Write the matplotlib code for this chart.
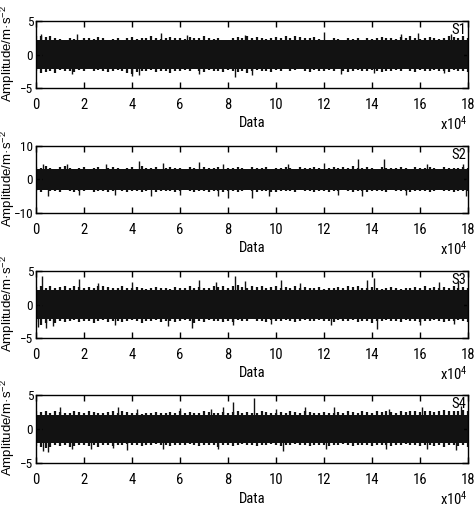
import numpy as np
import matplotlib
matplotlib.use("Agg")
import matplotlib.pyplot as plt

# x positions of the envelope readings, in units of 10^4 samples
x_env = np.arange(0, 18.01, 0.2)

# upper / lower edges of the signal at each reading
s1_up = [2.7, 2.8, 2.6, 2.7, 2.5, 2.3, 2.2, 2.4, 2.3, 2.1, 2.4, 2.5, 2.3, 2.6, 2.4, 2.2, 2.3, 2.5, 2.2, 2.4,
         2.6, 2.3, 2.5, 2.4, 2.7, 2.5, 2.3, 2.4, 2.6, 2.4, 2.5, 2.3, 2.6, 2.5, 2.4, 2.7, 2.4, 2.3, 2.5, 2.2,
         2.2, 2.4, 2.6, 2.5, 2.7, 2.4, 2.6, 2.5, 2.3, 2.4, 2.6, 2.5, 2.7, 2.4, 2.8, 2.6, 2.5, 2.4, 2.6, 2.3,
         2.1, 2.2, 2.4, 2.3, 2.2, 2.4, 2.3, 2.5, 2.2, 2.4, 2.3, 2.4, 2.6, 2.5, 2.4, 2.3, 2.6, 2.5, 2.8, 2.4,
         2.3, 2.4, 2.6, 2.5, 2.3, 2.5, 2.7, 2.6, 2.4, 2.8, 2.5]
s1_lo = [-2.4, -2.8, -2.6, -2.5, -2.7, -2.3, -2.5, -2.4, -2.6, -2.3, -2.4, -2.2, -2.5, -2.3, -2.4, -2.6, -2.5, -2.3, -2.4, -2.7,
         -2.9, -2.6, -2.4, -2.5, -2.3, -2.6, -2.4, -2.5, -2.7, -2.5, -2.4, -2.3, -2.5, -2.2, -2.4, -2.6, -2.3, -2.5, -2.4, -2.6,
         -2.3, -2.4, -2.6, -2.5, -2.8, -2.4, -2.3, -2.5, -2.4, -2.6, -2.3, -2.4, -2.2, -2.5, -2.3, -2.2, -2.4, -2.6, -2.3, -2.5,
         -2.4, -2.3, -2.5, -2.2, -2.4, -2.6, -2.5, -2.3, -2.4, -2.5, -2.3, -2.4, -2.6, -2.5, -2.4, -2.3, -2.5, -2.2, -2.4, -2.6,
         -2.3, -2.5, -2.4, -2.3, -2.5, -2.4, -2.6, -2.3, -2.5, -2.4, -2.6]

s2_up = [3.8, 3.5, 4.0, 3.4, 3.2, 3.6, 3.9, 3.3, 3.1, 3.5, 3.7, 3.2, 3.4, 3.6, 3.0, 3.3, 3.8, 3.5, 3.2, 3.4,
         3.6, 3.1, 3.9, 3.5, 3.3, 3.7, 3.2, 3.4, 3.6, 3.3, 3.5, 3.2, 3.8, 3.4, 3.1, 3.6, 3.3, 3.5, 3.7, 3.2,
         3.4, 3.3, 3.6, 3.5, 3.2, 3.8, 3.4, 3.3, 3.6, 3.1, 3.5, 3.3, 3.7, 3.4, 3.2, 3.6, 3.5, 3.3, 3.8, 3.4,
         3.2, 3.5, 3.7, 3.3, 3.6, 3.4, 3.9, 3.5, 3.3, 3.7, 3.4, 3.2, 3.6, 3.5, 3.3, 3.4, 3.8, 3.5, 3.2, 3.6,
         3.4, 3.3, 3.7, 3.5, 3.2, 3.6, 3.4, 3.5, 3.3, 3.7, 3.4]
s2_lo = [-3.4, -3.7, -3.2, -3.5, -3.3, -3.6, -3.1, -3.4, -3.8, -3.3, -3.5, -3.2, -3.6, -3.4, -3.3, -3.7, -3.5, -3.2, -3.4, -3.6,
         -3.3, -3.5, -3.8, -3.4, -3.2, -3.6, -3.5, -3.3, -3.4, -3.7, -3.5, -3.2, -3.4, -3.6, -3.3, -3.5, -3.8, -3.4, -3.3, -3.6,
         -3.5, -3.3, -3.6, -3.4, -3.2, -3.5, -3.7, -3.4, -3.3, -3.6, -3.8, -3.5, -3.3, -3.4, -3.6, -3.2, -3.5, -3.3, -3.7, -3.4,
         -3.3, -3.6, -3.4, -3.5, -3.2, -3.4, -3.6, -3.3, -3.5, -3.7, -3.4, -3.3, -3.5, -3.6, -3.2, -3.4, -3.5, -3.3, -3.6, -3.4,
         -3.5, -3.3, -3.6, -3.4, -3.2, -3.5, -3.4, -3.6, -3.3, -3.5, -3.4]

s3_up = [2.6, 2.8, 2.5, 2.7, 2.4, 2.6, 2.8, 2.5, 2.7, 2.6, 2.4, 2.6, 2.5, 2.7, 2.8, 2.6, 2.4, 2.5, 2.7, 2.5,
         2.4, 2.6, 2.5, 2.3, 2.5, 2.6, 2.4, 2.5, 2.3, 2.6, 2.5, 2.4, 2.7, 2.5, 2.6, 2.4, 2.5, 2.7, 2.6, 2.8,
         2.5, 2.7, 2.9, 2.6, 2.5, 2.8, 2.6, 2.7, 2.5, 2.6, 2.7, 2.5, 2.6, 2.4, 2.7, 2.5, 2.6, 2.4, 2.5, 2.6,
         2.3, 2.5, 2.4, 2.6, 2.5, 2.7, 2.6, 2.8, 2.5, 2.4, 2.6, 2.5, 2.3, 2.4, 2.6, 2.5, 2.3, 2.5, 2.4, 2.6,
         2.5, 2.7, 2.5, 2.6, 2.4, 2.6, 2.5, 2.7, 2.5, 2.6, 2.4]
s3_lo = [-2.6, -3.0, -2.8, -2.5, -2.7, -2.4, -2.6, -2.5, -2.3, -2.6, -2.4, -2.5, -2.7, -2.4, -2.3, -2.6, -2.5, -2.4, -2.6, -2.5,
         -2.3, -2.5, -2.7, -2.4, -2.5, -2.3, -2.6, -2.4, -2.5, -2.6, -2.4, -2.3, -2.5, -2.7, -2.4, -2.6, -2.3, -2.5, -2.4, -2.6,
         -2.4, -2.6, -2.3, -2.5, -2.4, -2.2, -2.5, -2.4, -2.6, -2.3, -2.4, -2.5, -2.3, -2.4, -2.6, -2.4, -2.3, -2.5, -2.4, -2.3,
         -2.5, -2.4, -2.6, -2.3, -2.5, -2.4, -2.3, -2.6, -2.5, -2.4, -2.7, -2.5, -2.4, -2.3, -2.5, -2.4, -2.6, -2.3, -2.5, -2.4,
         -2.6, -2.4, -2.5, -2.3, -2.4, -2.6, -2.4, -2.5, -2.3, -2.5, -2.6]

s4_up = [2.6, 2.5, 2.7, 2.4, 2.6, 2.5, 2.3, 2.4, 2.6, 2.5, 2.4, 2.6, 2.5, 2.3, 2.4, 2.5, 2.7, 2.4, 2.6, 2.5,
         2.3, 2.4, 2.2, 2.4, 2.3, 2.5, 2.4, 2.3, 2.5, 2.4, 2.6, 2.4, 2.5, 2.3, 2.4, 2.6, 2.5, 2.4, 2.3, 2.5,
         2.4, 2.5, 2.6, 2.4, 2.5, 2.3, 2.4, 2.6, 2.5, 2.4, 2.3, 2.5, 2.4, 2.6, 2.5, 2.4, 2.6, 2.5, 2.3, 2.4,
         2.5, 2.4, 2.3, 2.5, 2.4, 2.6, 2.5, 2.4, 2.6, 2.5, 2.4, 2.6, 2.5, 2.7, 2.5, 2.4, 2.6, 2.5, 2.7, 2.6,
         2.5, 2.6, 2.7, 2.5, 2.6, 2.8, 2.6, 2.7, 2.6, 2.8, 2.7]
s4_lo = [-2.5, -2.7, -2.8, -2.6, -2.4, -2.5, -2.3, -2.6, -2.5, -2.4, -2.3, -2.5, -2.4, -2.6, -2.3, -2.4, -2.5, -2.3, -2.4, -2.2,
         -2.4, -2.3, -2.5, -2.4, -2.3, -2.2, -2.4, -2.3, -2.5, -2.4, -2.3, -2.4, -2.2, -2.3, -2.5, -2.4, -2.3, -2.4, -2.6, -2.4,
         -2.3, -2.5, -2.4, -2.2, -2.3, -2.4, -2.5, -2.3, -2.4, -2.2, -2.3, -2.5, -2.4, -2.3, -2.2, -2.4, -2.3, -2.5, -2.4, -2.3,
         -2.4, -2.5, -2.3, -2.4, -2.2, -2.4, -2.5, -2.3, -2.4, -2.3, -2.5, -2.4, -2.3, -2.4, -2.5, -2.3, -2.4, -2.2, -2.4, -2.3,
         -2.5, -2.4, -2.3, -2.5, -2.4, -2.6, -2.4, -2.3, -2.5, -2.4, -2.7]

# level of the solid dark core of each band (+/-)
core_level = [2.1, 3.0, 2.2, 2.1]

# isolated peaks sticking out of the band: (x in 10^4, amplitude)
s1_spike_x = [0.2, 1.5, 1.7, 4.0, 4.3, 5.2, 6.3, 6.8, 8.3, 8.7, 9.0, 12.0, 12.7, 14.1, 15.2, 15.9, 17.0, 17.3]
s1_spike_y = [3.0, -2.9, 3.0, -3.2, -3.0, 3.2, 2.9, -2.9, -3.4, 2.9, -3.0, 3.3, -2.9, -2.8, 3.1, 3.2, -2.8, 3.0]

s2_spike_x = [0.3, 0.5, 1.3, 1.8, 2.9, 3.3, 4.3, 4.8, 5.3, 6.0, 6.8, 7.6, 7.8, 8.0, 9.0, 9.7,
              10.5, 12.0, 12.6, 13.4, 13.6, 14.5, 15.4, 16.3, 17.8, 17.9]
s2_spike_y = [4.5, -4.8, 4.6, -4.5, 4.5, -4.7, 5.5, -5.0, 4.8, -4.6, 5.2, -4.8, 4.6, -5.5, -5.6, -4.8,
              4.5, 5.0, -4.6, 6.0, -4.9, 6.2, -4.6, 4.7, 4.5, -5.0]

s3_spike_x = [0.1, 0.25, 0.4, 0.7, 1.8, 2.6, 3.3, 4.0, 5.5, 6.5, 6.8, 7.5, 8.2, 8.3, 8.7,
              9.8, 10.2, 11.0, 12.3, 13.8, 14.1, 14.2, 16.0, 16.8, 17.4, 17.6]
s3_spike_y = [-3.3, 4.2, -3.5, -3.2, 3.8, 3.2, -3.0, 3.3, -3.2, -3.5, 3.6, 3.4, -3.0, 4.2, 3.5,
              -2.9, 3.7, 3.2, -3.0, 3.6, 3.9, -3.6, -3.1, 3.4, -2.9, 3.3]

s4_spike_x = [0.3, 0.5, 1.0, 1.5, 2.3, 3.2, 3.4, 3.8, 4.2, 5.3, 6.0, 7.3, 7.6, 7.8, 8.2, 9.1,
              10.0, 10.3, 11.2, 12.1, 12.4, 14.6, 14.7, 16.1, 16.3, 17.5, 17.7]
s4_spike_y = [-3.2, -3.4, 3.3, -2.9, -3.0, -2.8, 3.3, -3.1, 2.9, -2.9, 3.1, 3.0, -3.0, 3.3, 3.9, 4.5,
              3.0, -3.2, 3.2, -2.9, 3.3, -2.9, 3.0, 3.2, -3.0, -3.1, 3.4]

labels = ["S1", "S2", "S3", "S4"]
ylims = [5, 10, 5, 5]
uppers = [s1_up, s2_up, s3_up, s4_up]
lowers = [s1_lo, s2_lo, s3_lo, s4_lo]
spikes_x = [s1_spike_x, s2_spike_x, s3_spike_x, s4_spike_x]
spikes_y = [s1_spike_y, s2_spike_y, s3_spike_y, s4_spike_y]
xticks = [0, 2, 4, 6, 8, 10, 12, 14, 16, 18]

# narrow Arial-like look, falling back to plain sans fonts
plt.rcParams["font.family"] = ["Roboto Condensed", "Liberation Sans", "DejaVu Sans"]
plt.rcParams["mathtext.default"] = "regular"
plt.rcParams["font.size"] = 10
label_family = ["Liberation Sans", "DejaVu Sans"]

W, H = 477, 508
fig = plt.figure(figsize=(W / 100, H / 100), dpi=100)

# axes boxes in pixels (top, bottom) for each panel
left_px, right_px = 36, 468
boxes = [(21, 88), (146, 213), (271, 338), (395, 463)]

line_color = "#121212"

for i in range(4):
    top, bottom = boxes[i]
    ax = fig.add_axes([left_px / W, 1 - bottom / H, (right_px - left_px) / W, (bottom - top) / H])

    x = x_env * 1e4
    # solid core, then the ragged edge as thin strokes, then the taller peaks
    ax.fill_between([0, 18e4], -core_level[i], core_level[i], color=line_color, linewidth=0)
    ax.vlines(x, lowers[i], uppers[i], color=line_color, linewidth=1.6)
    ax.vlines(np.array(spikes_x[i]) * 1e4, 0, spikes_y[i], color=line_color, linewidth=1.0)

    ax.set_xlim(0, 18e4)
    ax.set_ylim(-ylims[i], ylims[i])
    ax.set_yticks([-ylims[i], 0, ylims[i]])
    ax.set_xticks([t * 1e4 for t in xticks])
    ax.set_xticklabels([str(t) for t in xticks])

    ax.tick_params(direction="in", length=4, width=1.0, top=True, right=True)
    ax.tick_params(axis="x", pad=7, labelsize=10.5)
    ax.tick_params(axis="y", pad=2, labelsize=9.5)
    for sp in ax.spines.values():
        sp.set_linewidth(1.0)

    ax.set_xlabel("Data", fontsize=10.5)
    ax.xaxis.set_label_coords(0.5, -0.42)
    ax.set_ylabel("Amplitude/m·s$^{-2}$", fontsize=9.5, family=label_family)
    ax.yaxis.set_label_coords(-0.043, 0.52)

    ax.text(1.0, -0.53, "x10$^{4}$", transform=ax.transAxes, ha="right", va="center", fontsize=10.5)
    ax.text(0.995, 0.97, labels[i], transform=ax.transAxes, ha="right", va="top", fontsize=10.5)

fig.savefig("out.png", dpi=100)
